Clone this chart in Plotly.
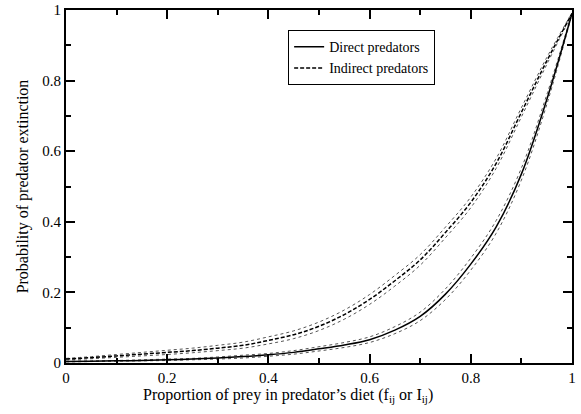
import plotly.graph_objects as go

x_vals = [0, 0.05, 0.1, 0.15, 0.2, 0.25, 0.3, 0.35, 0.4, 0.45, 0.5, 0.55, 0.6, 0.65, 0.7, 0.75, 0.8, 0.85, 0.9, 0.95, 1.0]

direct = [0.004, 0.005, 0.006, 0.007, 0.009, 0.011, 0.014, 0.018, 0.023, 0.030, 0.040, 0.051, 0.066, 0.093, 0.132, 0.195, 0.280, 0.385, 0.535, 0.745, 0.99]
direct_lo = [0.003, 0.004, 0.005, 0.006, 0.007, 0.009, 0.011, 0.014, 0.019, 0.025, 0.034, 0.044, 0.058, 0.083, 0.120, 0.180, 0.263, 0.367, 0.518, 0.731, 0.988]
direct_hi = [0.005, 0.006, 0.007, 0.009, 0.011, 0.013, 0.017, 0.022, 0.027, 0.035, 0.046, 0.058, 0.074, 0.103, 0.144, 0.210, 0.297, 0.403, 0.552, 0.759, 0.992]

indirect = [0.011, 0.015, 0.020, 0.025, 0.030, 0.035, 0.042, 0.050, 0.064, 0.080, 0.104, 0.137, 0.180, 0.233, 0.292, 0.370, 0.455, 0.565, 0.710, 0.855, 0.99]
indirect_lo = [0.009, 0.012, 0.016, 0.020, 0.024, 0.029, 0.035, 0.042, 0.054, 0.069, 0.092, 0.124, 0.166, 0.218, 0.277, 0.355, 0.440, 0.551, 0.697, 0.845, 0.988]
indirect_hi = [0.013, 0.018, 0.024, 0.030, 0.036, 0.042, 0.050, 0.059, 0.074, 0.091, 0.116, 0.150, 0.194, 0.248, 0.307, 0.385, 0.470, 0.579, 0.723, 0.865, 0.992]

x_tick_vals = [0, 0.2, 0.4, 0.6, 0.8, 1]
x_tick_text = ["0", "0.2", "0.4", "0.6", "0.8", "1"]
y_tick_vals = [0, 0.2, 0.4, 0.6, 0.8, 1]
y_tick_text = ["0", "0.2", "0.4", "0.6", "0.8", "1"]

x_title = "Proportion of prey in predator’s diet (f<sub>ij</sub> or I<sub>ij</sub>)"
y_title = "Probability of predator extinction"

FONT = "Liberation Serif"
band_style = dict(color="#555555", width=1, dash="dot")

fig = go.Figure()
for ys in (direct_lo, direct_hi, indirect_lo, indirect_hi):
    fig.add_trace(go.Scatter(x=x_vals, y=ys, mode="lines", line=band_style,
                             line_shape="spline", showlegend=False, hoverinfo="skip"))
fig.add_trace(go.Scatter(x=x_vals, y=direct, mode="lines", name="Direct predators",
                         line=dict(color="black", width=1.5), line_shape="spline"))
fig.add_trace(go.Scatter(x=x_vals, y=indirect, mode="lines", name="Indirect predators",
                         line=dict(color="black", width=1.5, dash="4px,2px"), line_shape="spline"))

axis_common = dict(showline=True, linecolor="black", linewidth=2, mirror="ticks",
                   ticks="inside", ticklen=9, tickwidth=1.5, tickcolor="black",
                   showgrid=False, zeroline=False, automargin=False,
                   tickfont=dict(family=FONT, size=15, color="black"),
                   minor=dict(ticks="inside", ticklen=5, tickwidth=1.5, tickcolor="black", dtick=0.1))

fig.update_xaxes(range=[-0.0001, 1.0001], tickvals=x_tick_vals, ticktext=x_tick_text, **axis_common)
fig.update_yaxes(range=[-0.0001, 1.0001], tickvals=y_tick_vals, ticktext=y_tick_text,
                 title=dict(text=y_title, font=dict(family=FONT, size=16, color="black"), standoff=10),
                 **axis_common)

fig.add_annotation(text=x_title, xref="paper", yref="paper", x=0.439, y=-0.092,
                   xanchor="center", yanchor="middle", showarrow=False,
                   font=dict(family=FONT, size=16, color="black"))

fig.update_layout(
    width=581, height=414,
    margin=dict(l=66, r=9, t=10, b=51),
    plot_bgcolor="white", paper_bgcolor="white",
    font=dict(family=FONT, color="black"),
    legend=dict(x=0.439, y=0.943, xanchor="left", yanchor="top",
                bordercolor="black", borderwidth=1, bgcolor="white",
                font=dict(family=FONT, size=14, color="black"),
                tracegroupgap=0, itemwidth=30),
)

fig.write_html("out.html", config={"displayModeBar": False},
               post_script="document.body.style.margin='0';")
